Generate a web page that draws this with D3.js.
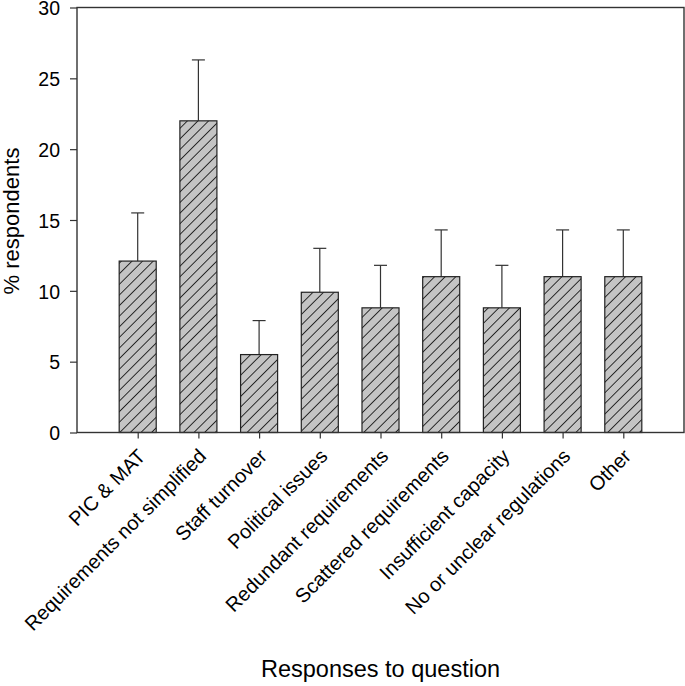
<!DOCTYPE html>
<html>
<head>
<meta charset="utf-8">
<script src="https://cdn.jsdelivr.net/npm/d3@7"></script>
<style>
  html, body { margin: 0; padding: 0; background: #fff; }
  svg { display: block; font-family: "Liberation Sans", Arial, sans-serif; }
</style>
</head>
<body>
<svg id="chart" width="685" height="686"></svg>
<script>
const categories = [
  "PIC & MAT",
  "Requirements not simplified",
  "Staff turnover",
  "Political issues",
  "Redundant requirements",
  "Scattered requirements",
  "Insufficient capacity",
  "No or unclear regulations",
  "Other"
];
const values = [12.1, 22.0, 5.5, 9.9, 8.8, 11.0, 8.8, 11.0, 11.0];
const errorTops = [15.5, 26.3, 7.9, 13.0, 11.8, 14.3, 11.8, 14.3, 14.3];
const yTicks = [0, 5, 10, 15, 20, 25, 30];
const yLabel = "% respondents";
const xLabel = "Responses to question";

const svg = d3.select("#chart");
const mLeft = 77, mRight = 684, mTop = 7.5, mBottom = 432.5;

const x = d3.scalePoint().domain(categories).range([mLeft, mRight]).padding(1);
const y = d3.scaleLinear().domain([0, 30]).range([mBottom, mTop]);
const barW = x.step() * 0.61;

// hatch pattern
const defs = svg.append("defs");
const pat = defs.append("pattern")
  .attr("id", "hatch")
  .attr("patternUnits", "userSpaceOnUse")
  .attr("width", 7.5).attr("height", 7.5)
  .attr("patternTransform", "rotate(45)");
pat.append("rect").attr("width", 7.5).attr("height", 7.5).attr("fill", "#c4c4c4");
pat.append("line").attr("x1", 0).attr("y1", 0).attr("x2", 0).attr("y2", 7.5)
  .attr("stroke", "#111").attr("stroke-width", 1.7);

// error bars
const eb = svg.append("g").attr("stroke", "#333").attr("stroke-width", 1.2);
categories.forEach((c, i) => {
  eb.append("line").attr("x1", x(c)).attr("x2", x(c)).attr("y1", y(values[i])).attr("y2", y(errorTops[i]));
  eb.append("line").attr("x1", x(c) - 6.5).attr("x2", x(c) + 6.5).attr("y1", y(errorTops[i])).attr("y2", y(errorTops[i]));
});

// bars
svg.append("g").selectAll("rect").data(categories).join("rect")
  .attr("x", d => x(d) - barW / 2)
  .attr("y", (d, i) => y(values[i]))
  .attr("width", barW)
  .attr("height", (d, i) => y(0) - y(values[i]))
  .attr("fill", "url(#hatch)")
  .attr("stroke", "#222")
  .attr("stroke-width", 1.2);

// frame
svg.append("rect").attr("x", mLeft).attr("y", mTop).attr("width", mRight - mLeft).attr("height", mBottom - mTop)
  .attr("fill", "none").attr("stroke", "#333").attr("stroke-width", 1.4);

// y axis
const yAxis = svg.append("g").attr("transform", `translate(${mLeft},0)`)
  .call(d3.axisLeft(y).tickValues(yTicks).tickSize(7).tickPadding(10).tickFormat(d3.format("d")));
yAxis.select(".domain").remove();
yAxis.selectAll("line").attr("stroke", "#333").attr("stroke-width", 1.2);
yAxis.selectAll("text").attr("font-size", 19.5).attr("fill", "#000").attr("dy", "0.37em")
  .attr("font-family", "'Liberation Sans', Arial, sans-serif");

// x axis
const xAxis = svg.append("g").attr("transform", `translate(0,${mBottom})`)
  .call(d3.axisBottom(x).tickSize(6).tickFormat(""));
xAxis.select(".domain").remove();
xAxis.selectAll("line").attr("stroke", "#333").attr("stroke-width", 1.2);

// rotated category labels
svg.append("g").selectAll("text").data(categories).join("text")
  .attr("transform", d => `translate(${x(d) + 9},${mBottom + 25}) rotate(-45)`)
  .attr("text-anchor", "end")
  .attr("font-size", 20)
  .attr("fill", "#000")
  .text(d => d);

// axis titles
svg.append("text")
  .attr("transform", `translate(19,${(mTop + mBottom) / 2 + 1}) rotate(-90)`)
  .attr("text-anchor", "middle")
  .attr("font-size", 22)
  .attr("fill", "#000")
  .text(yLabel);

svg.append("text")
  .attr("x", 380.5).attr("y", 677)
  .attr("text-anchor", "middle")
  .attr("font-size", 23.5)
  .attr("fill", "#000")
  .text(xLabel);
</script>
</body>
</html>
